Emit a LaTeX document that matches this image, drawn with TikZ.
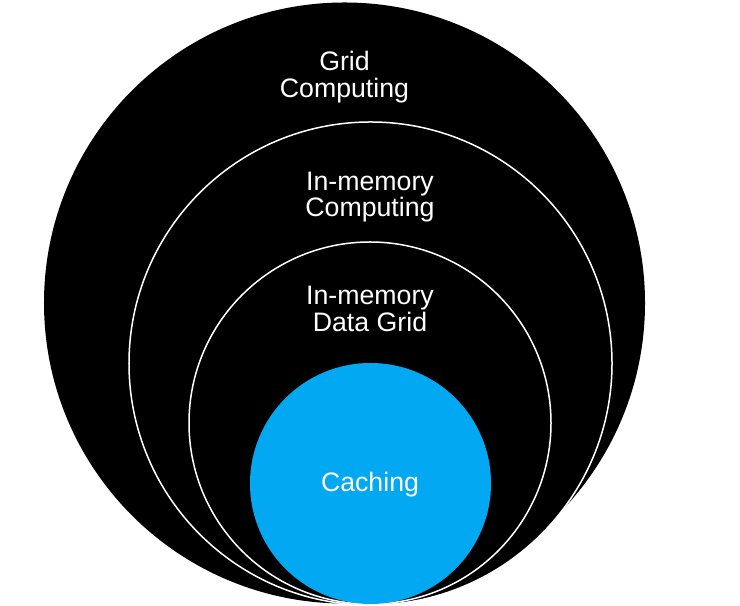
\documentclass[tikz,border=0pt]{standalone}
\usepackage{fontspec}
\setmainfont{Liberation Sans}
\definecolor{cacheblue}{RGB}{2,169,242}
\begin{document}
\begin{tikzpicture}[x=1bp,y=1bp,
  ring/.style={circle, draw=white, line width=1.5bp, fill=black, inner sep=0pt},
  lbl/.style={text=white, align=center, inner sep=0pt,
    font=\fontsize{26.7bp}{26.8bp}\selectfont}]
\useasboundingbox (0,0) rectangle (740,606);
\node[circle, fill=black, inner sep=0pt, minimum size=601bp] (outer) at (344.5,303) {};
\node[ring, minimum size=483bp] (imc) at (370.5,242.5) {};
\node[ring, minimum size=362bp] (imdg) at (370,183) {};
\node[circle, fill=cacheblue, inner sep=0pt, minimum size=241bp] (cache) at (370.5,122.5) {};
\node[lbl] (tgrid) at (344.5,529) {Grid\\Computing};
\node[lbl] (timc) at (370,409) {In-memory\\Computing};
\node[lbl] (timdg) at (370,297) {In-memory\\Data Grid};
\node[lbl, anchor=base] (tcache) at (370,114) {Caching};
\end{tikzpicture}
\end{document}
